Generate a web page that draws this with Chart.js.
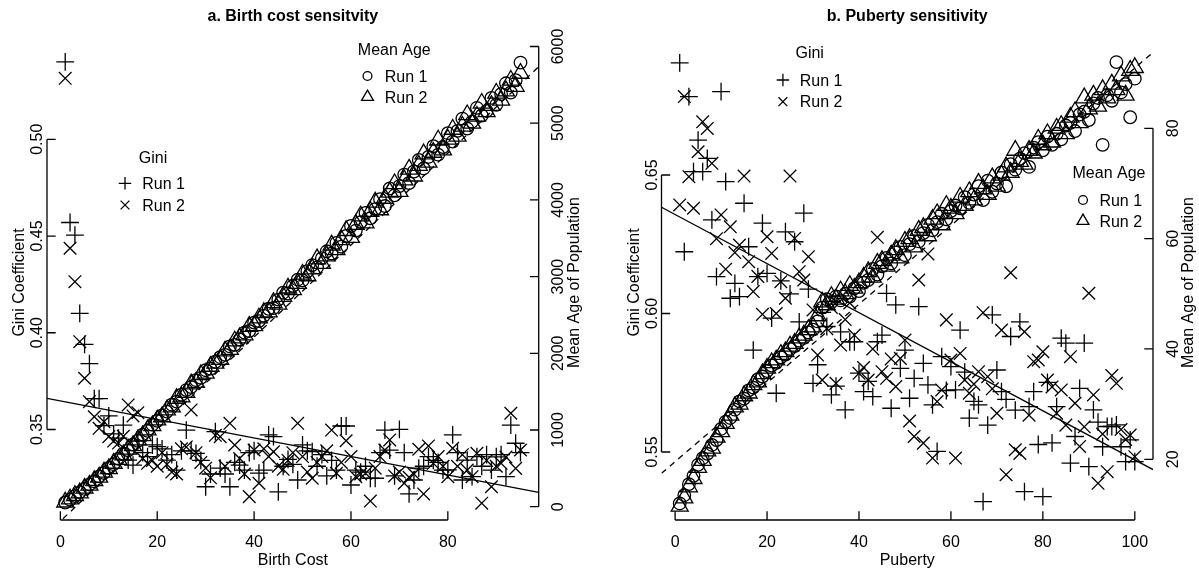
<!DOCTYPE html>
<html><head><meta charset="utf-8">
<script src="https://cdn.jsdelivr.net/npm/chart.js@4.4.1/dist/chart.umd.min.js"></script>
<style>
html,body{margin:0;padding:0;background:#fff;overflow:hidden}
#wrap{position:relative;width:1199px;height:569px;background:#fff}
canvas{position:absolute;top:0}
#ca{left:0}
#cb{left:600px}
</style></head><body>
<div id="wrap"><canvas id="ca" width="600" height="569"></canvas><canvas id="cb" width="599" height="569"></canvas></div>
<script>
// ---------- Panel a: Birth cost sensitivity ----------
const birthCost = [1,2,3,4,5,6,7,8,9,10,11,12,13,14,15,16,17,18,19,20,21,22,23,24,25,26,27,28,29,30,31,32,33,34,35,36,37,38,39,40,41,42,43,44,45,46,47,48,49,50,51,52,53,54,55,56,57,58,59,60,61,62,63,64,65,66,67,68,69,70,71,72,73,74,75,76,77,78,79,80,81,82,83,84,85,86,87,88,89,90,91,92,93,94,95];
const birthGiniRun1 = [0.540,0.457,0.4505,0.410,0.394,0.384,0.366,0.366,0.352,0.357,
0.3477,0.3455,0.3523,0.3342,0.3316,0.344,0.338,0.336,0.342,0.3411,
0.340,0.3342,0.337,0.329,0.339,0.3497,0.339,0.3377,0.334,0.3204,
0.327,0.3489,0.330,0.327,0.3204,0.333,0.3316,0.329,0.338,0.339,
0.3274,0.329,0.3472,0.3463,0.3178,0.331,0.3346,0.332,0.3239,0.342,
0.339,0.3386,0.331,0.337,0.326,0.334,0.329,0.3518,0.3518,0.3213,
0.329,0.328,0.331,0.3248,0.3248,0.338,0.3497,0.3393,0.326,0.3501,
0.338,0.3167,0.3239,0.330,0.331,0.336,0.334,0.333,0.329,0.3291,
0.3472,0.338,0.3239,0.3342,0.3256,0.336,0.331,0.337,0.329,0.3359,
0.337,0.3256,0.3523,0.3429,0.338];
const birthGiniRun2 = [0.5315,0.4437,0.4264,0.3954,0.3765,0.3644,0.3566,0.3506,0.354,0.3463,
0.344,0.343,0.3465,0.3627,0.357,0.3587,0.335,0.3325,0.334,0.331,
0.338,0.332,0.328,0.327,0.340,0.341,0.3601,0.338,0.333,0.330,
0.325,0.347,0.3463,0.331,0.3532,0.342,0.335,0.327,0.3153,0.3394,
0.3222,0.340,0.336,0.3385,0.331,0.3294,0.334,0.338,0.3532,0.336,
0.328,0.3248,0.333,0.336,0.339,0.3497,0.3274,0.333,0.3442,0.336,
0.3256,0.327,0.3274,0.313,0.330,0.336,0.3394,0.3446,0.326,0.328,
0.3222,0.3253,0.327,0.3398,0.3167,0.3415,0.3325,0.336,0.331,0.3256,
0.3403,0.331,0.337,0.329,0.3256,0.3377,0.3119,0.334,0.3204,0.331,
0.3325,0.3358,0.3584,0.3299,0.3394];
const birthAgeRun1 = [55,92,138,190,232,290,330,395,440,505,555,625,690,735,810,860,940,990,1070,1120,
1190,1240,1330,1370,1460,1520,1560,1650,1680,1780,1800,1890,1950,1980,2090,2110,2180,2270,2290,2400,
2420,2490,2580,2590,2700,2790,2780,2880,2960,2950,3070,3150,3120,3240,3330,3300,3440,3390,3530,3660,
3600,3710,3830,3760,3880,4010,3920,4150,4060,4180,4330,4220,4370,4520,4410,4560,4700,4590,4690,4870,
4760,4900,5060,4930,5020,5200,5100,5160,5330,5240,5380,5520,5400,5560,5790];
const birthAgeRun2 = [60,100,145,180,240,280,340,385,450,495,565,615,675,750,795,870,925,1000,1055,1130,
1170,1260,1300,1410,1430,1490,1600,1620,1720,1740,1830,1870,1920,2030,2050,2160,2200,2240,2350,2360,
2460,2530,2540,2660,2640,2740,2850,2830,2910,3030,3010,3100,3230,3170,3270,3410,3350,3480,3600,3510,
3680,3790,3700,3850,3970,3870,4020,4100,4210,4110,4260,4400,4310,4450,4600,4490,4620,4780,4650,4790,
4920,4830,4960,5110,5000,5090,5260,5150,5230,5390,5300,5420,5560,5480,5650];
// fitted lines: [intercept, slope]
const birthGiniFit = [0.36481, -0.000479];
const birthAgeFit = [-189, 60];
const birthXTicks = [0, 20, 40, 60, 80];
const birthGiniTicks = [0.35, 0.40, 0.45, 0.50];
const birthGiniTickLabels = ["0.35", "0.40", "0.45", "0.50"];
const birthAgeTicks = [0, 1000, 2000, 3000, 4000, 5000, 6000];
const birthAgeTickLabels = ["0", "1000", "2000", "3000", "4000", "5000", "6000"];

// ---------- Panel b: Puberty sensitivity ----------
const puberty = [1,2,3,4,5,6,7,8,9,10,11,12,13,14,15,16,17,18,19,20,21,22,23,24,25,26,27,28,29,30,31,32,33,34,35,36,37,38,39,40,41,42,43,44,45,46,47,48,49,50,51,52,53,54,55,56,57,58,59,60,61,62,63,64,65,66,67,68,69,70,71,72,73,74,75,76,77,78,79,80,81,82,83,84,85,86,87,88,89,90,91,92,93,94,95,96,97,98,99,100];
const pubGiniRun1 = [0.6905,0.6223,0.6783,0.6512,0.6626,0.6512,0.656,0.6338,0.6133,0.6801,
0.6476,0.6055,0.6109,0.6061,0.6398,0.6241,0.5868,0.6133,0.6326,0.6145,
0.5983,0.5712,0.6118,0.6295,0.6071,0.6259,0.597,0.6362,0.6088,0.5748,
0.5815,0.6004,0.5953,0.5706,0.5738,0.5934,0.5652,0.5898,0.5898,0.5785,
0.5718,0.5755,0.57,0.5898,0.5922,0.6073,0.5658,0.6031,0.5802,0.5868,
0.5694,0.5766,0.6025,0.582,0.5742,0.567,0.5502,0.5844,0.5722,0.5808,
0.5724,0.594,0.5788,0.5622,0.5683,0.567,0.5321,0.5597,0.5995,0.5796,
0.5718,0.569,0.5917,0.5651,0.597,0.5357,0.5664,0.5718,0.5527,0.5339,
0.5751,0.5533,0.5664,0.5911,0.5893,0.546,0.5556,0.573,0.5893,0.5447,
0.5652,0.5608,0.5519,0.5592,0.5592,0.5598,0.5519,0.5465,0.5544,0.5465];
const pubGiniRun2 = [0.6392,0.6783,0.6494,0.638,0.6584,0.6692,0.6668,0.6542,0.627,0.6356,
0.616,0.6313,0.622,0.6247,0.6496,0.6187,0.6079,0.6134,0.5997,0.6277,
0.6217,0.6,0.6115,0.6055,0.6496,0.6271,0.6151,0.6121,0.6205,0.6013,
0.585,0.576,0.5945,0.6022,0.5748,0.5886,0.5978,0.6038,0.5922,0.5784,
0.5805,0.576,0.5872,0.6275,0.579,0.5766,0.5836,0.5736,0.5838,0.5904,
0.5612,0.5556,0.6121,0.5532,0.6215,0.5478,0.5682,0.5724,0.5977,0.5832,
0.5478,0.5856,0.576,0.5712,0.5745,0.579,0.6003,0.5772,0.5728,0.564,
0.594,0.5418,0.6147,0.5508,0.5495,0.5934,0.5633,0.5826,0.5832,0.5862,
0.576,0.5735,0.564,0.5724,0.5597,0.5844,0.5676,0.552,0.5591,0.6073,
0.5706,0.5387,0.5565,0.5429,0.5776,0.5748,0.5581,0.5545,0.5561,0.5483];
const pubAgeRun1 = [12.0,13.5,15.5,17.0,19.0,20.2,21.0,22.6,23.5,25.5,26.8,27.5,29.0,30.5,31.0,32.5,33.0,34.5,35.0,36.0,
37.0,37.5,38.5,39.0,40.0,40.5,41.5,42.0,43.0,43.5,45.0,47.5,49.0,48.5,49.5,48.8,50.0,49.5,51.0,50.5,
52.0,52.5,54.5,53.5,55.0,56.5,55.5,57.5,58.5,57.0,59.0,60.5,59.5,61.0,62.5,61.5,63.0,64.5,63.5,65.0,
66.0,65.5,67.5,66.5,68.0,69.5,67.0,70.5,68.5,70.0,72.0,69.5,73.5,72.5,74.5,75.5,73.0,76.5,77.5,76.0,
78.5,77.0,79.0,78.0,80.5,81.0,79.5,82.5,83.0,81.5,84.5,85.5,77.0,86.0,85.0,92.0,86.5,88.0,82.0,89.0];
const pubAgeRun2 = [11.5,13.0,15.0,16.5,18.5,19.8,21.5,22.0,24.0,25.0,26.5,28.0,29.5,30.0,31.5,32.0,33.5,34.0,35.5,36.5,
37.5,38.0,39.0,39.5,40.5,41.0,42.0,42.5,43.5,44.0,46.0,48.5,48.0,49.5,49.0,50.5,50.0,51.5,51.0,52.0,
53.0,54.0,53.0,55.5,56.0,55.0,57.0,58.0,56.5,59.5,60.0,58.5,61.5,62.0,60.5,63.5,64.5,62.5,66.0,65.5,
64.5,67.5,66.0,68.5,67.0,70.0,69.0,68.0,71.0,69.5,71.5,73.0,72.0,76.0,74.0,73.5,76.0,75.5,78.0,77.0,
79.0,77.5,80.0,80.5,79.0,82.0,83.0,81.0,85.5,83.5,86.0,84.0,87.0,85.5,88.0,87.0,89.5,86.0,90.5,91.0];
const pubGiniFit = [0.63572, -0.0008856];
const pubAgeFit = [19.57, 0.7135];
const pubXTicks = [0, 20, 40, 60, 80, 100];
const pubGiniTicks = [0.55, 0.60, 0.65];
const pubGiniTickLabels = ["0.55", "0.60", "0.65"];
const pubAgeTicks = [20, 40, 60, 80];
const pubAgeTickLabels = ["20", "40", "60", "80"];

// ---------- drawing helpers ----------
const FONT = '"Liberation Sans", Arial, Helvetica, sans-serif';
const LW = 1.3;
const TL = 8.7;

function pts(xs, ys) { return xs.map((x, i) => ({x: x, y: ys[i]})); }
function fitLine(fit, x0, x1) { return [{x: x0, y: fit[0] + fit[1] * x0}, {x: x1, y: fit[0] + fit[1] * x1}]; }

function legendSym(ctx, sym, x, y, c) {
  ctx.beginPath();
  if (sym === 'cross') {
    const r = c * 1.414;
    ctx.moveTo(x - r, y); ctx.lineTo(x + r, y);
    ctx.moveTo(x, y - r); ctx.lineTo(x, y + r);
  } else if (sym === 'crossRot') {
    const r = c;
    ctx.moveTo(x - r, y - r); ctx.lineTo(x + r, y + r);
    ctx.moveTo(x + r, y - r); ctx.lineTo(x - r, y + r);
  } else if (sym === 'circle') {
    ctx.arc(x, y, c, 0, Math.PI * 2);
  } else if (sym === 'triangle') {
    const r = c * 1.5551;
    ctx.moveTo(x, y - r);
    ctx.lineTo(x + r * 0.866, y + r * 0.5);
    ctx.lineTo(x - r * 0.866, y + r * 0.5);
    ctx.closePath();
  }
  ctx.stroke();
}

function rotText(ctx, txt, bx, cy) {
  ctx.save();
  ctx.translate(bx, cy);
  ctx.rotate(-Math.PI / 2);
  ctx.textAlign = 'center';
  ctx.textBaseline = 'alphabetic';
  ctx.fillText(txt, 0, 0);
  ctx.restore();
}

const rAxes = {
  id: 'rAxes',
  afterDraw(chart, args, o) {
    const ctx = chart.ctx, ca = chart.chartArea;
    const xs = chart.scales.x, yl = chart.scales.yL, yr = chart.scales.yR;
    ctx.save();
    ctx.strokeStyle = '#000'; ctx.fillStyle = '#000'; ctx.lineWidth = LW; ctx.lineCap = 'butt';
    ctx.font = '16px ' + FONT;
    // x axis
    let a = xs.getPixelForValue(o.xTicks[0]), b = xs.getPixelForValue(o.xTicks[o.xTicks.length - 1]);
    ctx.beginPath(); ctx.moveTo(a, ca.bottom); ctx.lineTo(b, ca.bottom);
    o.xTicks.forEach(v => { const p = xs.getPixelForValue(v); ctx.moveTo(p, ca.bottom); ctx.lineTo(p, ca.bottom - TL); });
    ctx.stroke();
    ctx.textAlign = 'center'; ctx.textBaseline = 'alphabetic';
    o.xTicks.forEach(v => ctx.fillText(String(v), xs.getPixelForValue(v), ca.bottom + 27));
    ctx.fillText(o.xTitle, (ca.left + ca.right) / 2, ca.bottom + 45);
    // left axis
    a = yl.getPixelForValue(o.lTicks[0]); b = yl.getPixelForValue(o.lTicks[o.lTicks.length - 1]);
    ctx.beginPath(); ctx.moveTo(ca.left, a); ctx.lineTo(ca.left, b);
    o.lTicks.forEach(v => { const p = yl.getPixelForValue(v); ctx.moveTo(ca.left, p); ctx.lineTo(ca.left + TL, p); });
    ctx.stroke();
    o.lTicks.forEach((v, i) => rotText(ctx, o.lLabels[i], ca.left - 5, yl.getPixelForValue(v)));
    rotText(ctx, o.lTitle, ca.left - 22.7, (ca.top + ca.bottom) / 2);
    // right axis
    a = yr.getPixelForValue(o.rTicks[0]); b = yr.getPixelForValue(o.rTicks[o.rTicks.length - 1]);
    ctx.beginPath(); ctx.moveTo(ca.right, a); ctx.lineTo(ca.right, b);
    o.rTicks.forEach(v => { const p = yr.getPixelForValue(v); ctx.moveTo(ca.right, p); ctx.lineTo(ca.right - TL, p); });
    ctx.stroke();
    o.rTicks.forEach((v, i) => rotText(ctx, o.rLabels[i], ca.right + 24.6, yr.getPixelForValue(v)));
    rotText(ctx, o.rTitle, ca.right + 40, (ca.top + ca.bottom) / 2);
    // title
    ctx.font = 'bold 16px ' + FONT;
    ctx.textAlign = 'center';
    ctx.fillText(o.title, (ca.left + ca.right) / 2, 21);
    // legends
    ctx.font = '16px ' + FONT;
    o.legends.forEach(L => {
      ctx.textAlign = 'center';
      ctx.fillText(L.title, L.cx, L.titleY);
      ctx.textAlign = 'left';
      L.rows.forEach(r => {
        legendSym(ctx, r.sym, L.symX, r.symY, 4.4);
        ctx.fillText(r.label, L.textX, r.textY);
      });
    });
    ctx.restore();
  }
};

const C = 6.3; // plotting symbol base size
function scatterSet(label, data, axis, style, radius) {
  return {label, data, yAxisID: axis, pointStyle: style, pointRadius: radius, pointHoverRadius: radius,
    pointBorderColor: '#000', pointBackgroundColor: 'rgba(0,0,0,0)', pointBorderWidth: LW,
    pointHoverBorderWidth: LW, showLine: false, borderColor: '#000'};
}
function lineSet(label, data, axis, dash) {
  return {label, data, yAxisID: axis, type: 'line', showLine: true, pointRadius: 0, pointHoverRadius: 0,
    borderColor: '#000', borderWidth: LW, borderDash: dash, fill: false, tension: 0, clip: 0};
}

function makePanel(id, p) {
  new Chart(document.getElementById(id), {
    type: 'scatter',
    data: { datasets: [
      scatterSet('Age Run 1', pts(p.x, p.age1), 'yR', 'circle', C),
      scatterSet('Age Run 2', pts(p.x, p.age2), 'yR', 'triangle', C * 1.5551),
      scatterSet('Gini Run 1', pts(p.x, p.g1), 'yL', 'cross', C * 1.414),
      scatterSet('Gini Run 2', pts(p.x, p.g2), 'yL', 'crossRot', C * 1.414),
      lineSet('Age fit', fitLine(p.ageFit, p.xmin, p.xmax), 'yR', [6, 5]),
      lineSet('Gini fit', fitLine(p.giniFit, p.xmin, p.xmax), 'yL', [])
    ]},
    options: {
      responsive: false, animation: false, events: [],
      layout: { padding: p.pad },
      scales: {
        x: { type: 'linear', min: p.xmin, max: p.xmax, display: false },
        yL: { type: 'linear', position: 'left', min: p.gmin, max: p.gmax, display: false },
        yR: { type: 'linear', position: 'right', min: p.amin, max: p.amax, display: false }
      },
      plugins: { legend: { display: false }, tooltip: { enabled: false }, rAxes: p.axes }
    },
    plugins: [rAxes]
  });
}

makePanel('ca', {
  x: birthCost, g1: birthGiniRun1, g2: birthGiniRun2, age1: birthAgeRun1, age2: birthAgeRun2,
  giniFit: birthGiniFit, ageFit: birthAgeFit,
  xmin: -2.76, xmax: 98.76, gmin: 0.30322, gmax: 0.54874, amin: -173.4, amax: 6019.6,
  pad: { left: 47, right: 61.3, top: 45, bottom: 49 },
  axes: {
    xTicks: birthXTicks, lTicks: birthGiniTicks, lLabels: birthGiniTickLabels,
    rTicks: birthAgeTicks, rLabels: birthAgeTickLabels,
    xTitle: 'Birth Cost', lTitle: 'Gini Coefficient', rTitle: 'Mean Age of Population',
    title: 'a. Birth cost sensitvity',
    legends: [
      { title: 'Gini', cx: 153, titleY: 162.7, symX: 125, textX: 142.3,
        rows: [{sym: 'cross', symY: 183.3, label: 'Run 1', textY: 189.3}, {sym: 'crossRot', symY: 205, label: 'Run 2', textY: 211}] },
      { title: 'Mean Age', cx: 394.3, titleY: 54.5, symX: 367.5, textX: 384.7,
        rows: [{sym: 'circle', symY: 76, label: 'Run 1', textY: 81.7}, {sym: 'triangle', symY: 97, label: 'Run 2', textY: 102.7}] }
    ]
  }
});

makePanel('cb', {
  x: puberty, g1: pubGiniRun1, g2: pubGiniRun2, age1: pubAgeRun1, age2: pubAgeRun2,
  giniFit: pubGiniFit, ageFit: pubAgeFit,
  xmin: -2.96, xmax: 103.96, gmin: 0.52545, gmax: 0.69693, amin: 8.997, amax: 95.10,
  pad: { left: 61.5, right: 46, top: 45, bottom: 49 },
  axes: {
    xTicks: pubXTicks, lTicks: pubGiniTicks, lLabels: pubGiniTickLabels,
    rTicks: pubAgeTicks, rLabels: pubAgeTickLabels,
    xTitle: 'Puberty', lTitle: 'Gini Coefficeint', rTitle: 'Mean Age of Population',
    title: 'b. Puberty sensitivity',
    legends: [
      { title: 'Gini', cx: 209.7, titleY: 58.3, symX: 182.9, textX: 199.8,
        rows: [{sym: 'cross', symY: 80, label: 'Run 1', textY: 86}, {sym: 'crossRot', symY: 101.7, label: 'Run 2', textY: 107.3}] },
      { title: 'Mean Age', cx: 509, titleY: 178.3, symX: 483, textX: 499.4,
        rows: [{sym: 'circle', symY: 200, label: 'Run 1', textY: 206}, {sym: 'triangle', symY: 221, label: 'Run 2', textY: 227}] }
    ]
  }
});
</script>
</body></html>
